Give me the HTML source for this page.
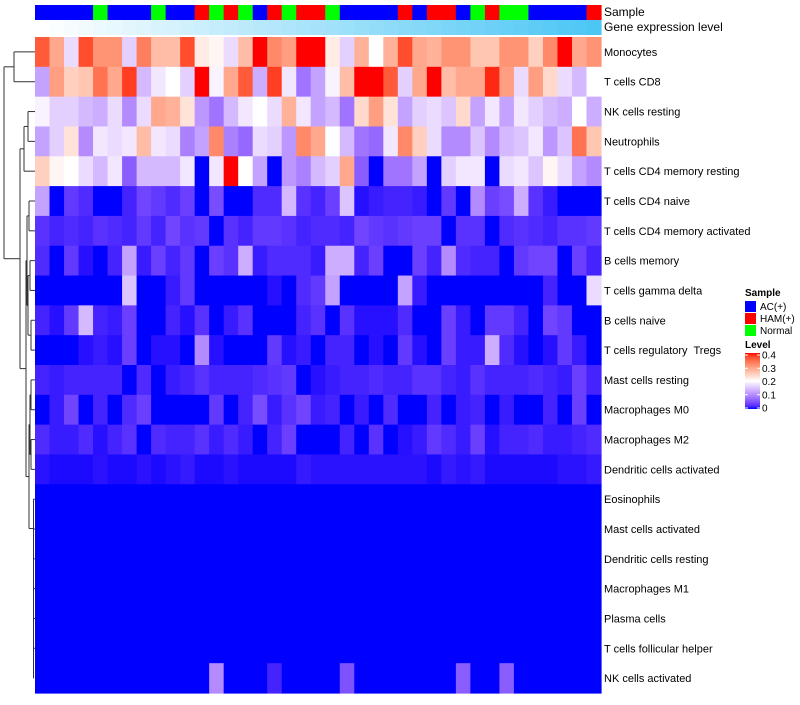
<!DOCTYPE html>
<html><head><meta charset="utf-8"><style>
body{margin:0;background:#fff;}
svg text{font-family:"Liberation Sans",sans-serif;white-space:pre;}
</style></head><body>
<svg id="chart" width="800" height="700" xmlns="http://www.w3.org/2000/svg">
<g id="dendro" stroke="#333" stroke-width="1" fill="none"></g>
<g id="cells"></g>
<g id="annot"></g>
<g id="rowlabels" font-size="11" fill="#000"></g>
<text x="604" y="16" font-size="12">Sample</text>
<text x="604" y="31" font-size="12">Gene expression level</text>
<g font-size="10">
<text x="745" y="296" font-weight="bold">Sample</text>
<rect x="745" y="301" width="11" height="11" fill="#0000FF"/>
<text x="760" y="310">AC(+)</text>
<rect x="745" y="313" width="11" height="11" fill="#FF0000"/>
<text x="760" y="322">HAM(+)</text>
<rect x="745" y="325" width="11" height="11" fill="#00FF00"/>
<text x="760" y="334">Normal</text>
</g>
<g id="levlegend" font-size="10">
<text x="745" y="348" font-weight="bold">Level</text>
</g>
</svg>
<script>
const rowNames=["Monocytes","T cells CD8","NK cells resting","Neutrophils","T cells CD4 memory resting","T cells CD4 naive","T cells CD4 memory activated","B cells memory","T cells gamma delta","B cells naive","T cells regulatory  Tregs","Mast cells resting","Macrophages M0","Macrophages M2","Dendritic cells activated","Eosinophils","Mast cells activated","Dendritic cells resting","Macrophages M1","Plasma cells","T cells follicular helper","NK cells activated"];
const sampleGroups=["AC","AC","AC","AC","N","AC","AC","AC","N","AC","AC","H","N","H","N","AC","H","N","H","H","N","AC","AC","AC","AC","H","AC","H","H","AC","N","H","N","N","AC","AC","AC","AC","H"];
const legendTicks=[0,0.1,0.2,0.3,0.4];
const r0=[.36,.29,.17,.37,.31,.31,.16,.33,.27,.27,.37,.22,.21,.17,.27,.4,.32,.3,.4,.4,.22,.16,.28,.2,.28,.37,.29,.28,.31,.31,.26,.26,.31,.31,.25,.32,.4,.29,.31];
const r1=[.12,.3,.25,.26,.34,.29,.38,.14,.18,.2,.16,.4,.19,.29,.36,.13,.38,.18,.08,.12,.19,.27,.4,.4,.36,.16,.29,.4,.27,.29,.29,.39,.3,.17,.3,.24,.17,.14,.2];
const r2=[.19,.16,.16,.14,.13,.17,.10,.17,.29,.28,.23,.11,.08,.14,.18,.20,.17,.28,.18,.12,.14,.08,.24,.30,.23,.12,.16,.17,.15,.24,.12,.18,.12,.18,.16,.14,.13,.20,.13];
const r3=[.12,.16,.23,.1,.18,.17,.18,.27,.18,.17,.09,.12,.32,.09,.07,.17,.16,.11,.32,.29,.2,.14,.08,.07,.18,.32,.25,.17,.1,.1,.15,.1,.14,.15,.18,.11,.15,.34,.26];
const r4=[.25,.21,.2,.17,.14,.18,.06,.14,.14,.14,.18,0,.18,.4,.2,.12,0,.11,.09,.14,.16,.29,.06,0,.08,.08,.12,0,.16,.18,.18,0,.17,.18,.15,.21,.17,.12,.1];
const r5=[.12,0,.03,.02,0,0,.015,.04,.03,.02,.035,0,.045,0,0,.02,.02,.14,.025,.015,.035,.15,.005,.01,.015,.015,.01,0,.03,0,.1,.035,.045,.13,.025,.01,0,0,0];
const r6=[.025,.015,.02,.015,.025,.02,.015,.03,.015,.04,.025,.03,0,.025,.015,.03,.03,.025,.015,.02,.02,.015,.04,.03,.025,.03,.035,.035,0,.025,.025,0,.02,.025,.02,.015,.025,.025,.03];
const r7=[.02,0,.03,.005,0,.015,.12,.01,.035,.015,.03,0,.035,.025,.13,.01,.02,.02,.02,.01,.13,.13,.015,.035,0,0,.035,.015,.1,.02,.015,.015,0,.03,.04,.04,0,.035,.015];
const r8=[0,0,0,0,0,0,.15,0,0,.01,.03,0,0,0,0,0,.005,0,.02,.03,.12,0,0,0,0,.12,.01,0,0,0,0,0,0,0,0,.015,0,0,.17];
const r9=[.015,.005,.03,.14,.015,.01,.035,0,0,.015,.005,.025,0,.01,.025,0,0,0,.015,.025,0,.025,.005,.005,.005,.02,0,0,.035,.01,0,.03,.03,.015,0,.04,.03,0,0];
const r10=[0,0,0,.005,.01,.005,.035,0,.005,.005,0,.1,.005,0,0,0,.03,.005,.01,0,.015,.015,0,.005,0,.03,.005,0,.035,.01,.01,.13,.02,.005,0,.005,.03,.01,0];
const r11=[.015,.01,.015,.015,.015,.015,0,.02,0,.01,.015,.025,.015,.015,.015,.02,.025,.03,0,.005,.01,.015,.015,.02,.015,.015,.025,.025,.015,.01,.025,.015,.015,.015,.02,.015,.01,.035,.015];
const r12=[0,.01,.04,0,.015,0,.02,.035,0,0,0,0,.03,0,.015,.045,.01,.025,.04,.01,.015,0,.01,0,.02,0,0,.015,0,.01,.015,0,.01,0,0,.015,0,.035,0];
const r13=[.02,.01,.01,.02,.005,.015,.025,0,.02,.015,.015,.025,.01,.02,.01,0,.015,.035,0,0,0,.015,0,.025,0,.005,.01,.03,.02,.01,.035,.005,.015,.015,.02,.01,.01,.015,.02];
const r14=[.006,.003,.003,.003,.006,.003,.003,.006,.003,.006,.009,.003,.003,.006,.003,.003,.003,.003,.009,.006,.006,.006,.006,.006,.006,.006,.006,.003,.009,.006,.009,.003,.003,.003,.003,.003,.006,.006,.009];
const r15=[0,0,0,0,0,0,0,0,0,0,0,0,0,0,0,0,0,0,0,0,0,0,0,0,0,0,0,0,0,0,0,0,0,0,0,0,0,0,0];
const r16=[0,0,0,0,0,0,0,0,0,0,0,0,0,0,0,0,0,0,0,0,0,0,0,0,0,0,0,0,0,0,0,0,0,0,0,0,0,0,0];
const r17=[0,0,0,0,0,0,0,0,0,0,0,0,0,0,0,0,0,0,0,0,0,0,0,0,0,0,0,0,0,0,0,0,0,0,0,0,0,0,0];
const r18=[0,0,0,0,0,0,0,0,0,0,0,0,0,0,0,0,0,0,0,0,0,0,0,0,0,0,0,0,0,0,0,0,0,0,0,0,0,0,0];
const r19=[0,0,0,0,0,0,0,0,0,0,0,0,0,0,0,0,0,0,0,0,0,0,0,0,0,0,0,0,0,0,0,0,0,0,0,0,0,0,0];
const r20=[0,0,0,0,0,0,0,0,0,0,0,0,0,0,0,0,0,0,0,0,0,0,0,0,0,0,0,0,0,0,0,0,0,0,0,0,0,0,0];
const r21=[0,0,0,0,0,0,0,0,0,0,0,0,.1,0,0,0,.015,0,0,0,0,.05,0,0,0,0,0,0,0,.06,0,0,.06,0,0,0,0,0,0];
const values=[r0,r1,r2,r3,r4,r5,r6,r7,r8,r9,r10,r11,r12,r13,r14,r15,r16,r17,r18,r19,r20,r21];

const NS="http://www.w3.org/2000/svg";
const X0=35,X1=601,Y0=37,Y1=693;
const nC=sampleGroups.length,nR=rowNames.length;
const cw=(X1-X0)/nC,rh=(Y1-Y0)/nR;
const xPos=i=>X0+i*cw, yPos=j=>Y0+j*rh;
function mk(t,a,p){const e=document.createElementNS(NS,t);for(const k in a)e.setAttribute(k,a[k]);p.appendChild(e);return e;}
function toLin(c){c/=255;return c<=0.04045?c/12.92:Math.pow((c+0.055)/1.055,2.4);}
function fromLin(c){c=c<=0.0031308?12.92*c:1.055*Math.pow(c,1/2.4)-0.055;return Math.max(0,Math.min(255,Math.round(c*255)));}
function f(t){return t>0.008856?Math.cbrt(t):7.787*t+16/116;}
function fi(t){return t>0.206893?t*t*t:(t-16/116)/7.787;}
function rgb2lab(r,g,b){r=toLin(r);g=toLin(g);b=toLin(b);
 let x=(0.4124*r+0.3576*g+0.1805*b)/0.95047,y=0.2126*r+0.7152*g+0.0722*b,z=(0.0193*r+0.1192*g+0.9505*b)/1.08883;
 const fx=f(x),fy=f(y),fz=f(z);return [116*fy-16,500*(fx-fy),200*(fy-fz)];}
function lab2rgb(L,a,bb){const fy=(L+16)/116,fx=fy+a/500,fz=fy-bb/200;
 const x=fi(fx)*0.95047,y=fi(fy),z=fi(fz)*1.08883;
 const r=3.2406*x-1.5372*y-0.4986*z,g=-0.9689*x+1.8758*y+0.0415*z,b=0.0557*x-0.2040*y+1.0570*z;
 return `rgb(${fromLin(r)},${fromLin(g)},${fromLin(b)})`;}
const LB=rgb2lab(0,0,255),LW=rgb2lab(255,255,255),LR=rgb2lab(255,0,0);
function col(v){v=Math.max(0,Math.min(0.4,v));let A,B,t;
 if(v<=0.2){A=LB;B=LW;t=v/0.2;}else{A=LW;B=LR;t=(v-0.2)/0.2;}
 return lab2rgb(A[0]+(B[0]-A[0])*t,A[1]+(B[1]-A[1])*t,A[2]+(B[2]-A[2])*t);}

const cells=document.getElementById('cells');
for(let j=0;j<nR;j++)for(let i=0;i<nC;i++){
 const r=mk('rect',{x:xPos(i).toFixed(2),y:yPos(j).toFixed(2),width:(cw+0.6).toFixed(2),height:(rh+0.6).toFixed(2),fill:col(values[j][i])},cells);
 
 
}
const grpColor={AC:"#0000FF",H:"#FF0000",N:"#00FF00"};
const annot=document.getElementById('annot');
for(let i=0;i<nC;i++){
 const r=mk('rect',{x:xPos(i).toFixed(2),y:5,width:(cw+0.6).toFixed(2),height:15,fill:grpColor[sampleGroups[i]]},annot);
 
 
 const t=i/(nC-1);
 const g=mk('rect',{x:xPos(i).toFixed(2),y:20,width:(cw+0.6).toFixed(2),height:15,fill:`rgb(${Math.round(255-(255-76)*t)},${Math.round(255-(255-198)*t)},${Math.round(255-(255-245)*t)})`},annot);
 
 
}
const rl=document.getElementById('rowlabels');
rowNames.forEach((n,j)=>{
 const t=mk('text',{x:604,y:(yPos(j)+rh/2+4).toFixed(1)},rl);t.textContent=n;
 
 
});
const d=document.getElementById('dendro');
const yc=j=>yPos(j)+rh/2;
function seg(x1,y1,x2,y2){const l=mk('line',{x1,y1,x2,y2},d);}
function join(xa,ya,xb,yb,xm){seg(xa,ya,xm,ya);seg(xb,yb,xm,yb);seg(xm,ya,xm,yb);return (ya+yb)/2;}
const m01=join(35,yc(0),35,yc(1),14);
const m23=join(35,yc(2),35,yc(3),28);
const m234=join(28,m23,35,yc(4),24);
let lowY=yc(21),lowX=34;
for(let j=20;j>=15;j--){lowY=join(35,yc(j),lowX,lowY,33.5);lowX=33.5;}
const m1314=join(35,yc(13),35,yc(14),31);
const m1112=join(35,yc(11),35,yc(12),31);
const mA=join(31,m1112,31,m1314,30);
const mB=join(30,mA,33.5,lowY,29);
const m910=join(35,yc(9),35,yc(10),31);
const m78=join(35,yc(7),35,yc(8),30);
const mC=join(30,m78,31,m910,28);
const m56=join(35,yc(5),35,yc(6),29);
const mD=join(29,m56,28,mC,27);
const mE=join(27,mD,29,mB,26);
const mF=join(24,m234,26,mE,20);
join(14,m01,20,mF,4);
const lv=document.getElementById('levlegend');
const grad=mk('linearGradient',{id:'lg',x1:0,y1:1,x2:0,y2:0},mk('defs',{},lv));
for(let k=0;k<=20;k++){mk('stop',{offset:(k/20),'stop-color':col(0.4*k/20)},grad);}
mk('rect',{x:745,y:353,width:15,height:56,fill:'url(#lg)'},lv);
const ly=v=>408-v/0.4*53;
legendTicks.forEach(v=>{
 mk('line',{x1:745,x2:748,y1:ly(v),y2:ly(v),stroke:'#fff'},lv);
 mk('line',{x1:757,x2:760,y1:ly(v),y2:ly(v),stroke:'#fff'},lv);
 const t=mk('text',{x:762,y:(ly(v)+3.5).toFixed(1)},lv);t.textContent=String(v);
 
 
});
</script>
</body></html>
